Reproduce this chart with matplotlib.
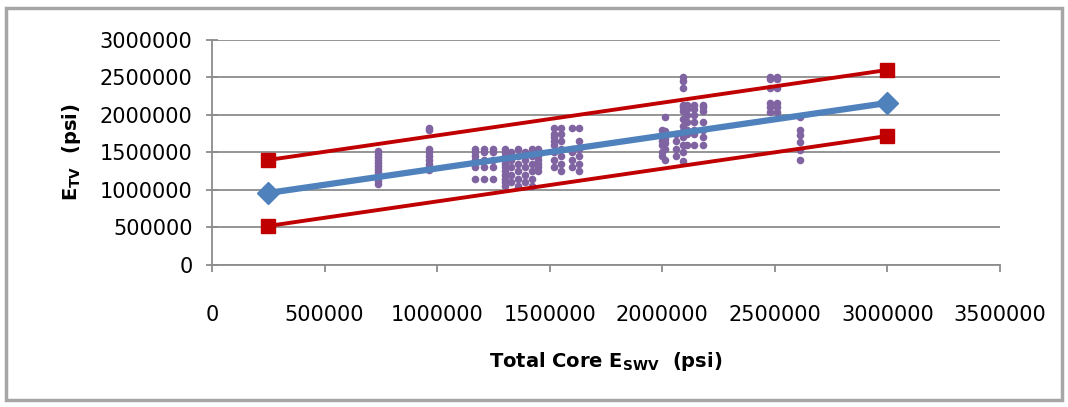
import numpy as np
import matplotlib
matplotlib.use("Agg")
import matplotlib.pyplot as plt
from matplotlib.patches import Rectangle

# fit line and +/- bounds (psi)
line_x = [250000, 3000000]
fit_y = [960000, 2160000]
upper_y = [1400000, 2600000]
lower_y = [520000, 1720000]

# measured data, grouped by core E_swv column (x) -> E_tv values (y)
col_x = [738000, 965000, 1170000, 1210000, 1250000, 1300000, 1330000, 1360000,
         1390000, 1420000, 1450000, 1520000, 1550000, 1600000, 1630000,
         2000000, 2010000, 2060000, 2090000, 2110000, 2140000, 2180000,
         2480000, 2510000, 2610000]
col_y = [
    [1.08, 1.12, 1.16, 1.2, 1.24, 1.28, 1.32, 1.36, 1.4, 1.44, 1.48, 1.52],
    [1.27, 1.31, 1.35, 1.4, 1.45, 1.5, 1.55, 1.8, 1.83],
    [1.15, 1.3, 1.4, 1.45, 1.5, 1.55],
    [1.15, 1.3, 1.4, 1.5, 1.55],
    [1.15, 1.3, 1.4, 1.5, 1.55],
    [1.05, 1.1, 1.15, 1.2, 1.25, 1.3, 1.35, 1.4, 1.45, 1.5, 1.55],
    [1.1, 1.2, 1.3, 1.4, 1.5],
    [1.05, 1.15, 1.25, 1.35, 1.45, 1.55],
    [1.1, 1.2, 1.3, 1.4, 1.5],
    [1.05, 1.15, 1.25, 1.35, 1.45, 1.55],
    [1.25, 1.3, 1.35, 1.4, 1.45, 1.5, 1.55],
    [1.3, 1.4, 1.5, 1.6, 1.65, 1.7, 1.75, 1.83],
    [1.25, 1.35, 1.45, 1.55, 1.65, 1.75, 1.83],
    [1.3, 1.4, 1.5, 1.55, 1.83],
    [1.25, 1.35, 1.45, 1.55, 1.65, 1.83],
    [1.45, 1.5, 1.6, 1.65, 1.7, 1.75, 1.8],
    [1.4, 1.55, 1.62, 1.68, 1.72, 1.78, 1.97],
    [1.45, 1.55, 1.65, 1.75],
    [1.38, 1.5, 1.6, 1.7, 1.78, 1.85, 1.95, 2.05, 2.1, 2.13, 2.36, 2.45, 2.5],
    [1.6, 1.75, 1.8, 1.9, 2.0, 2.08, 2.13],
    [1.6, 1.75, 1.8, 1.9, 2.0, 2.08, 2.13],
    [1.6, 1.7, 1.8, 1.9, 2.05, 2.1, 2.13],
    [2.04, 2.1, 2.16, 2.36, 2.48, 2.5],
    [2.04, 2.1, 2.16, 2.36, 2.48, 2.5],
    [1.4, 1.53, 1.64, 1.73, 1.8, 1.97],
]

xticks = np.arange(0, 3500001, 500000)
yticks = np.arange(0, 3000001, 500000)

pts_x = []
pts_y = []
for x, ys in zip(col_x, col_y):
    for y in ys:
        pts_x.append(x)
        pts_y.append(y * 1e6)

fig = plt.figure(figsize=(10.68, 4.07), dpi=100)
ax = fig.add_axes([0.1985, 0.349, 0.7378, 0.5528])

ax.scatter(pts_x, pts_y, s=30, color="#8064A2", zorder=3, linewidths=0)
ax.plot(line_x, fit_y, color="#4F81BD", lw=4.5, marker="D", ms=11,
        zorder=4)
ax.plot(line_x, upper_y, color="#C00000", lw=2.8, marker="s", ms=10,
        zorder=4)
ax.plot(line_x, lower_y, color="#C00000", lw=2.8, marker="s", ms=10,
        zorder=4)

ax.set_xlim(0, 3500000)
ax.set_ylim(0, 3000000)
ax.set_xticks(xticks)
ax.set_yticks(yticks)
ax.set_xticklabels([str(v) for v in xticks])
ax.set_yticklabels([str(v) for v in yticks])

ax.grid(axis="y", color="#8C8C8C", lw=1.3)
ax.set_axisbelow(True)
for s in ["top", "right"]:
    ax.spines[s].set_visible(False)
for s in ["left", "bottom"]:
    ax.spines[s].set_color("#8C8C8C")
    ax.spines[s].set_linewidth(1.3)

ax.tick_params(axis="x", direction="out", length=5, width=1.3,
               color="#8C8C8C", labelsize=15, pad=24)
ax.tick_params(axis="y", direction="inout", length=8, width=1.3,
               color="#8C8C8C", labelsize=15, pad=10)

ax.set_xlabel(r"Total Core $\mathbf{E_{SWV}}$  (psi)", fontsize=14,
              fontweight="bold", labelpad=18)
ax.set_ylabel(r"$\mathbf{E_{TV}}$  (psi)", fontsize=14, fontweight="bold",
              labelpad=12)

fig.patches.append(Rectangle((0.006, 0.018), 0.988, 0.962, transform=fig.transFigure,
                             fill=False, edgecolor="#A6A6A6", lw=2.5))

fig.savefig("out.png", dpi=100)
